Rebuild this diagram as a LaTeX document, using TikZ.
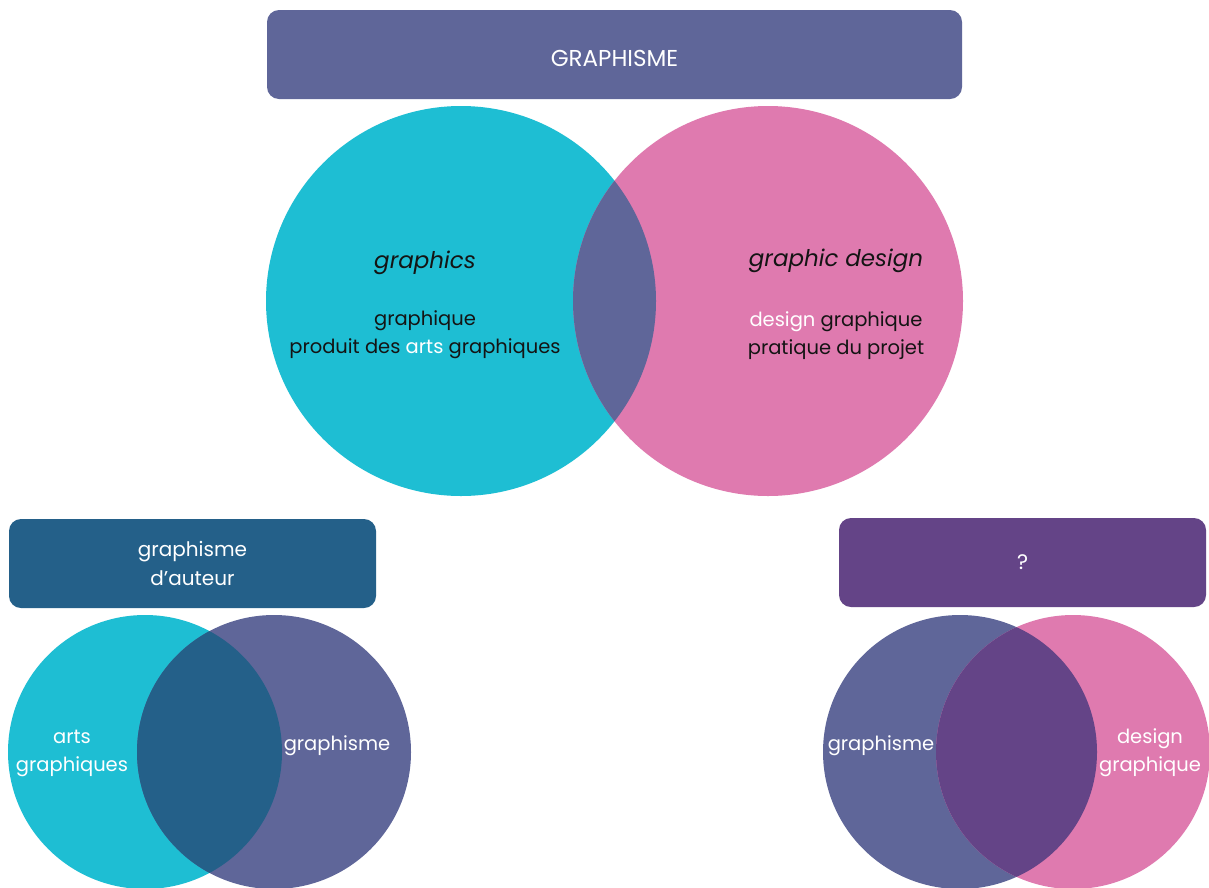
\documentclass[tikz,border=0pt]{standalone}
\usepackage{fontspec}
\setmainfont{Poppins}
\usetikzlibrary{positioning}

\definecolor{cyanvenn}{HTML}{1EBED3}
\definecolor{pinkvenn}{HTML}{DF7AAF}
\definecolor{slatevenn}{HTML}{5F6699}
\definecolor{bluevenn}{HTML}{246089}
\definecolor{plumvenn}{HTML}{644487}
\definecolor{inkvenn}{HTML}{141414}

\tikzset{
  titlebox/.style={rounded corners=12pt, inner sep=0pt, text=white, align=center},
  lbl/.style={align=center, text=inkvenn, font=\fontsize{19.5}{28}\selectfont},
  wlbl/.style={align=center, text=white, font=\fontsize{19.5}{28}\selectfont}
}

\begin{document}
\begin{tikzpicture}[x=1pt, y=-1pt]
            \clip (0,0) rectangle (1209,887);
            \fill[white] (0,0) rectangle (1209,887);
            % top box
            \node (top) [titlebox, fill=slatevenn, minimum width=695pt, minimum height=89pt] at (614.5,54.5) {};
            \node (toptxt) [text=white, font=\fontsize{23}{28}\selectfont] at (614.5,58) {GRAPHISME};
            % big circles
            \fill[cyanvenn] (461,301) circle (195);
            \fill[pinkvenn] (768,301) circle (195);
            \begin{scope}
                \clip (461,301) circle (195);
                \fill[slatevenn] (768,301) circle (195);
            \end{scope}
            \node (gra) [lbl, font=\fontsize{23}{28}\selectfont\itshape] at (425,263) {graphics};
            \node (grb) [lbl] at (425,335) {graphique\\produit des \textcolor{white}{arts} graphiques};
            \node (gda) [lbl, font=\fontsize{23}{28}\selectfont\itshape] at (836,261) {graphic design};
            \node (gdb) [lbl] at (836,336) {\textcolor{white}{design} graphique\\pratique du projet};
            % bottom left
            \node (aut) [titlebox, fill=bluevenn, minimum width=367pt, minimum height=89pt,
                font=\fontsize{20}{29}\selectfont] at (192.5,563.5) {graphisme\\d’auteur};
            \fill[cyanvenn] (145,752) circle (137);
            \fill[slatevenn] (274,752) circle (137);
            \begin{scope}
                \clip (145,752) circle (137);
                \fill[bluevenn] (274,752) circle (137);
            \end{scope}
            \node (ag) [wlbl] at (72,753) {arts\\graphiques};
            \node (gl) [wlbl] at (337,746) {graphisme};
            % bottom right
            \node (que) [titlebox, fill=plumvenn, minimum width=367pt, minimum height=89pt,
                font=\fontsize{21}{26}\selectfont] at (1022.5,562.5) {?};
            \fill[slatevenn] (960,752) circle (137);
            \fill[pinkvenn] (1073,752) circle (137);
            \begin{scope}
                \clip (960,752) circle (137);
                \fill[plumvenn] (1073,752) circle (137);
            \end{scope}
            \node (gr) [wlbl] at (881,746) {graphisme};
            \node (dg) [wlbl] at (1150,753) {design\\graphique};
        \end{tikzpicture}
\end{document}
